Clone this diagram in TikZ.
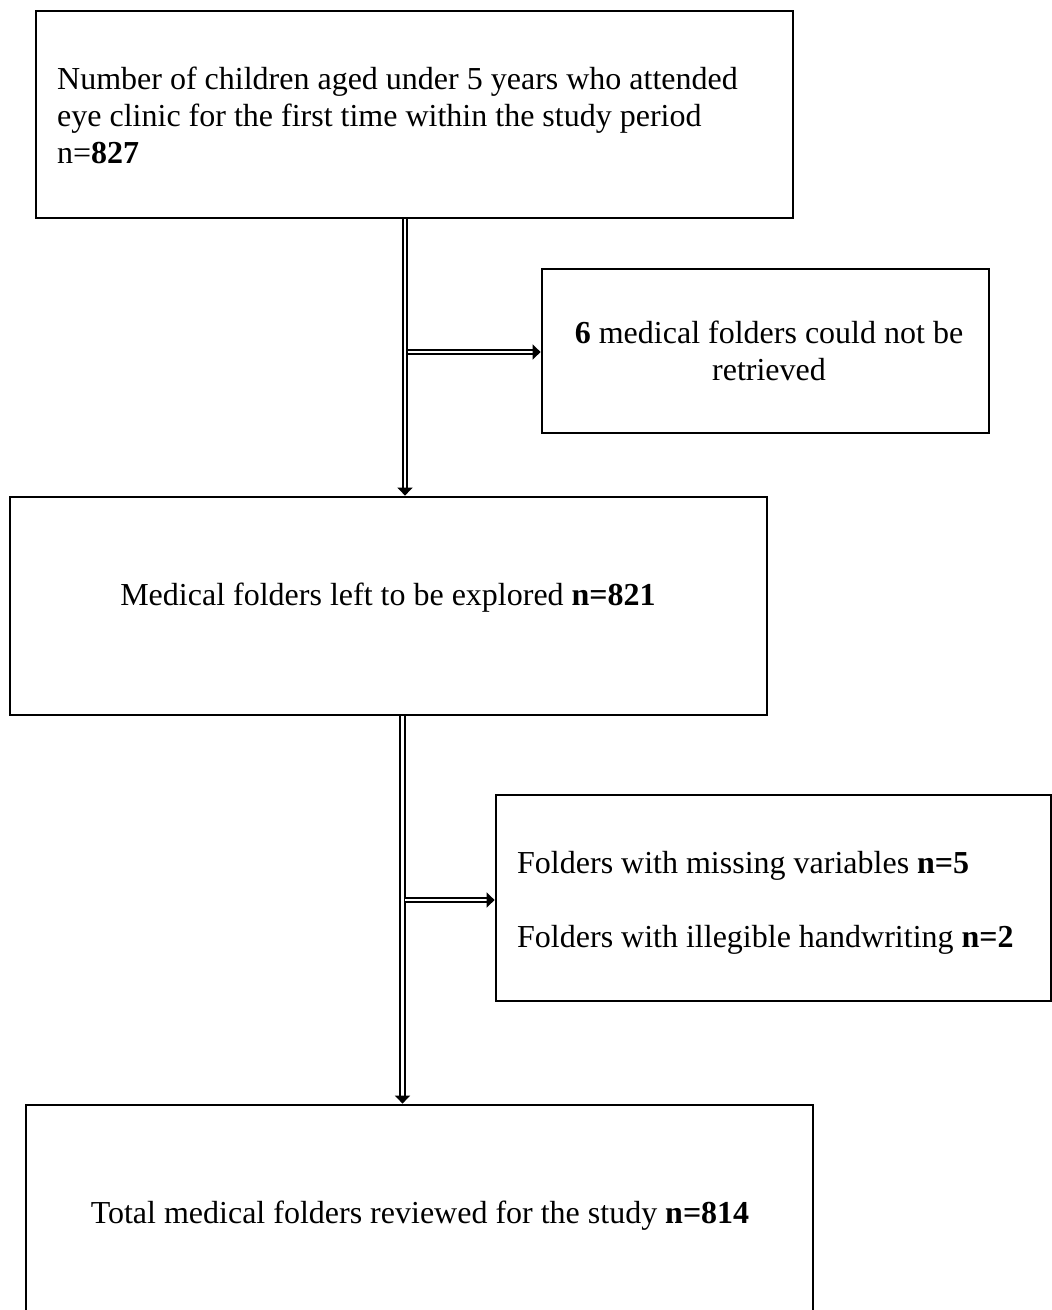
\documentclass[tikz,border=0pt]{standalone}
\usepackage{fontspec}
\setmainfont{Liberation Serif}
\usetikzlibrary{arrows.meta,calc}
\tikzset{
  box/.style={draw=black, line width=2.8pt, rectangle, inner sep=0pt},
  txt/.style={font=\fontsize{32}{37}\selectfont, inner sep=0pt},
  dbl/.style={double=white, draw=black, line width=1.9pt, double distance=2.6pt,
              -{Triangle[length=8pt,width=15pt]}},
}
\begin{document}
\begin{tikzpicture}[x=1pt,y=-1pt]
\useasboundingbox[fill=white] (0,0) rectangle (1052,1310);
\clip (0,0) rectangle (1052,1310);
% boxes
\node[box, minimum width=757pt, minimum height=207pt] (b1) at (414.5,114.5) {};
\node[box, minimum width=447pt, minimum height=164pt] (b2) at (765.5,351) {};
\node[box, minimum width=757pt, minimum height=218pt] (b3) at (388.5,606) {};
\node[box, minimum width=555pt, minimum height=206pt] (b4) at (773.5,898) {};
\node[box, minimum width=787pt, minimum height=235pt] (b5) at (419.5,1222.5) {};
% texts (base anchor = baseline of last line)
\node[txt, anchor=base west, align=left] (t1) at (57,163)
  {Number of children aged under 5 years who attended\\
   eye clinic for the first time within the study period\\
   n=\textbf{827}};
\node[txt, anchor=base, align=center] (t2) at (769,380)
  {\textbf{6} medical folders could not be\\ retrieved};
\node[txt, anchor=base] (t3) at (388,605)
  {Medical folders left to be explored \textbf{n=821}};
\node[txt, anchor=base west, align=left] (t4) at (517,947)
  {Folders with missing variables \textbf{n=5}\\[37pt]
   Folders with illegible handwriting \textbf{n=2}};
\node[txt, anchor=base] (t5) at (420,1223)
  {Total medical folders reviewed for the study \textbf{n=814}};
% connectors
\coordinate (v1) at (405,352);
\coordinate (h1) at (407.5,352);
\coordinate (v2) at (402.5,900);
\coordinate (h2) at (405,900);
\draw[dbl] (v1 |- b1.south) -- (v1 |- b3.north);
\draw[dbl] (h1) -- (h1 -| b2.west);
\draw[dbl] (v2 |- b3.south) -- (v2 |- b5.north);
\draw[dbl] (h2) -- (h2 -| b4.west);
\end{tikzpicture}
\end{document}
